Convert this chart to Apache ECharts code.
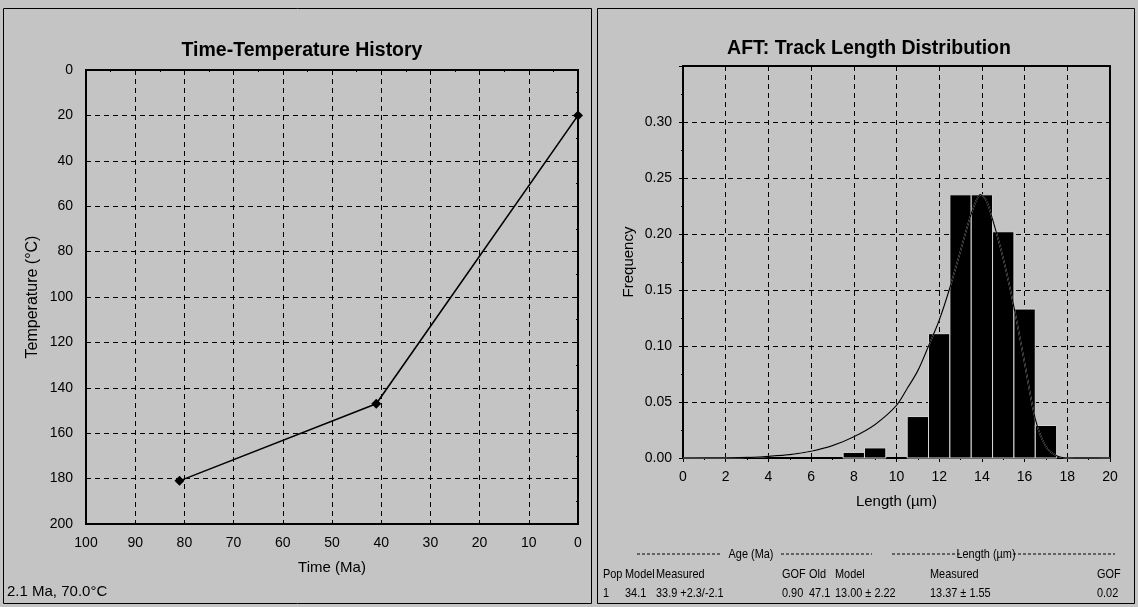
<!DOCTYPE html>
<html>
<head>
<meta charset="utf-8">
<title>Time-Temperature History / AFT Track Length Distribution</title>
<script src="https://cdn.jsdelivr.net/npm/echarts@6/dist/echarts.min.js"></script>
<style>
body { margin: 0; background: #c4c4c4; }
#chart { width: 1138px; height: 607px; }
</style>
</head>
<body>
<div id="chart"></div>
<script>
// time-temperature path (Ma, degC)
var timeMa = [81, 41, 0];
var tempC = [181, 147, 20];

// measured track lengths, 1 um bins centred on integers
var binCentre = [8, 9, 10, 11, 12, 13, 14, 15, 16, 17];
var binFreq = [0.005, 0.009, 0, 0.037, 0.111, 0.235, 0.235, 0.202, 0.133, 0.029];

// modelled length distribution
var modelLength = [0, 2, 3, 4, 5, 6, 7, 8, 9, 10, 10.5, 11, 11.5, 12, 12.5, 13, 13.5, 13.9, 14.2, 14.5, 15, 15.5, 16, 16.5, 17, 17.5, 18, 20];
var modelFreq = [0, 0.0002, 0.0005, 0.0015, 0.003, 0.006, 0.011, 0.019, 0.03, 0.047, 0.062, 0.078, 0.1, 0.123, 0.152, 0.185, 0.218, 0.235, 0.23, 0.213, 0.178, 0.135, 0.085, 0.035, 0.01, 0.002, 0, 0];

// summary table
var ageHeader = ['Pop', 'Model', 'Measured', 'GOF', 'Old'];
var ageValues = ['1', '34.1', '33.9 +2.3/-2.1', '0.90', '47.1'];
var lenHeader = ['Model', 'Measured', 'GOF'];
var lenValues = ['13.00 \u00b1 2.22', '13.37 \u00b1 1.55', '0.02'];
var statusText = '2.1 Ma, 70.0\u00b0C';

var FONT = '"Liberation Sans", Arial, sans-serif';
var my_chart = echarts.init(document.getElementById('chart'));

function axisBase(extra)
{
	var a = {
		type: 'value',
		nameLocation: 'middle',
		nameTextStyle: { color: '#000', fontSize: 15, fontFamily: FONT },
		axisLine: { show: true, lineStyle: { color: '#000', width: 2 } },
		axisTick: { show: true, length: 4, lineStyle: { color: '#000' } },
		minorTick: { show: true, splitNumber: 2, length: 2, lineStyle: { color: '#000' } },
		axisLabel: { color: '#000', fontSize: 14, fontFamily: FONT, margin: 12 },
		splitLine: { show: true, lineStyle: { color: '#000', width: 1, type: [5, 4] } }
	};
	for (var k in extra) a[k] = extra[k];
	return a;
}

// table text is squeezed a bit to mimic the narrow bitmap font
function text(x, y, s, align, size, sx)
{
	return {
		type: 'text', x: x, y: y, scaleX: sx || 0.84,
		style: { text: s, fill: '#000', font: (size || 13) + 'px ' + FONT,
			textAlign: align || 'left', textVerticalAlign: 'middle' }
	};
}

function dashLine(x1, x2, y)
{
	return { type: 'line', shape: { x1: x1, y1: y, x2: x2, y2: y },
		style: { stroke: '#000', lineWidth: 1, lineDash: [3, 2] } };
}

var ageX = [603, 625, 656, 782, 809];
var lenX = [835, 930, 1097];

var graphics = [
	{ type: 'rect', shape: { x: 3.5, y: 8.5, width: 588, height: 595 }, style: { fill: null, stroke: '#000', lineWidth: 1 } },
	{ type: 'rect', shape: { x: 597.5, y: 8.5, width: 537, height: 595 }, style: { fill: null, stroke: '#000', lineWidth: 1 } },
	text(7, 592, statusText, 'left', 15, 1),
	dashLine(637, 722, 554), text(751, 554, 'Age (Ma)', 'center'), dashLine(781, 872, 554),
	dashLine(892, 960, 554), text(986, 554, 'Length (\u00b5m)', 'center'), dashLine(1013, 1115, 554)
];
for (var i = 0; i < ageHeader.length; ++i) {
	graphics.push(text(ageX[i], 574, ageHeader[i]));
	graphics.push(text(ageX[i], 593, ageValues[i]));
}
for (var j = 0; j < lenHeader.length; ++j) {
	graphics.push(text(lenX[j], 574, lenHeader[j]));
	graphics.push(text(lenX[j], 593, lenValues[j]));
}

var titleStyle = { fontSize: 19.5, fontWeight: 'bold', color: '#000', fontFamily: FONT };

var option = {
	animation: false,
	backgroundColor: '#c4c4c4',
	title: [
		{ text: 'Time-Temperature History', left: 297, top: 46, textAlign: 'center', textVerticalAlign: 'middle', textStyle: titleStyle },
		{ text: 'AFT: Track Length Distribution', left: 864, top: 44, textAlign: 'center', textVerticalAlign: 'middle', textStyle: titleStyle }
	],
	grid: [
		{ left: 86, top: 70, width: 492, height: 454, show: true, borderColor: '#000', borderWidth: 2 },
		{ left: 683, top: 66, width: 427, height: 392, show: true, borderColor: '#000', borderWidth: 2 }
	],
	xAxis: [
		axisBase({ gridIndex: 0, min: 0, max: 100, interval: 10, inverse: true, name: 'Time (Ma)', nameGap: 36 }),
		axisBase({ gridIndex: 1, min: 0, max: 20, interval: 2, name: 'Length (\u00b5m)', nameGap: 36 })
	],
	yAxis: [
		axisBase({ gridIndex: 0, min: 0, max: 200, interval: 20, inverse: true, name: 'Temperature (\u00b0C)', nameGap: 45,
			nameTextStyle: { color: '#000', fontSize: 16, fontFamily: FONT },
			axisLabel: { color: '#000', fontSize: 14, fontFamily: FONT, margin: 13 } }),
		axisBase({ gridIndex: 1, min: 0, max: 0.35, interval: 0.05, name: 'Frequency', nameGap: 47,
			nameTextStyle: { color: '#000', fontSize: 15, fontFamily: FONT },
			axisLabel: { color: '#000', fontSize: 14, fontFamily: FONT, margin: 11, showMaxLabel: false,
				formatter: function (v) { return v.toFixed(2); } } })
	],
	series: [
		{
			type: 'line', xAxisIndex: 0, yAxisIndex: 0,
			data: timeMa.map(function (t, i) { return [t, tempC[i]]; }),
			symbol: 'diamond',
			symbolSize: 10,
			itemStyle: { color: '#000' },
			lineStyle: { color: '#000', width: 1.6 }
		},
		{
			type: 'custom', xAxisIndex: 1, yAxisIndex: 1, z: 3,
			data: binCentre.map(function (x, i) { return [x, binFreq[i]]; }),
			renderItem: function (params, api) {
				var x = api.value(0), f = api.value(1);
				if (!f) return null;
				var p0 = api.coord([x - 0.5, f]), p1 = api.coord([x + 0.5, 0]);
				return { type: 'rect',
					shape: { x: p0[0], y: p0[1], width: p1[0] - p0[0], height: p1[1] - p0[1] },
					style: { fill: '#000', stroke: '#d8d8d8', lineWidth: 1 } };
			}
		},
		{
			type: 'custom', xAxisIndex: 1, yAxisIndex: 1, z: 4,
			data: [0],
			renderItem: function (params, api) {
				var pts = modelLength.map(function (x, i) { return api.coord([x, modelFreq[i]]); });
				return { type: 'group', children: [
					{ type: 'polyline', shape: { points: pts, smooth: 0.3 },
						style: { stroke: '#fff', lineWidth: 1.2, fill: null, blend: 'difference' } },
					{ type: 'polyline', shape: { points: pts, smooth: 0.3 },
						style: { stroke: '#000', lineWidth: 1.2, fill: null, blend: 'color-burn' } }
				] };
			}
		}
	],
	graphic: graphics
};

my_chart.setOption(option);
</script>
</body>
</html>
